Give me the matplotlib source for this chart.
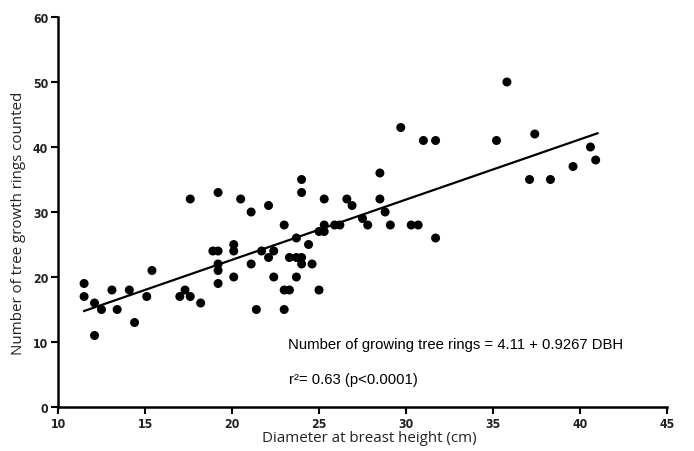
import matplotlib
matplotlib.use("Agg")
import matplotlib.pyplot as plt
import numpy as np

dbh = [11.5, 11.5, 12.1, 12.5, 12.1, 13.1, 13.4, 14.1, 14.4, 15.1, 15.4, 17.0, 17.3, 17.6, 18.2,
       17.6, 19.2, 20.5, 21.1, 18.9, 19.2, 19.2, 19.2, 19.2, 20.1, 20.1, 20.1, 21.1, 21.4,
       22.1, 23.0, 24.0, 24.0, 25.3, 26.6, 26.9, 21.7, 22.1, 22.4, 22.4, 23.0, 23.3, 23.0,
       23.3, 23.7, 24.0, 24.0, 23.7, 23.7, 24.4, 24.6, 25.0, 25.0, 25.3, 25.3, 25.9, 26.2,
       27.5, 27.8, 28.5, 28.5, 28.8, 29.1, 29.7, 30.3, 30.7, 31.0, 31.7, 31.7, 35.2, 35.8,
       37.1, 37.4, 38.3, 39.6, 40.6, 40.9]
rings = [19, 17, 16, 15, 11, 18, 15, 18, 13, 17, 21, 17, 18, 17, 16,
         32, 33, 32, 30, 24, 24, 22, 21, 19, 25, 24, 20, 22, 15,
         31, 28, 35, 33, 32, 32, 31, 24, 23, 24, 20, 18, 18, 15,
         23, 23, 23, 22, 26, 20, 25, 22, 18, 27, 27, 28, 28, 28,
         29, 28, 36, 32, 30, 28, 43, 28, 28, 41, 41, 26, 41, 50,
         35, 42, 35, 37, 40, 38]
intercept = 4.11
slope = 0.9267
fit_x = [11.5, 41.0]

xticks = [10, 15, 20, 25, 30, 35, 40, 45]
yticks = [0, 10, 20, 30, 40, 50, 60]

fig = plt.figure(figsize=(6.94, 4.52), dpi=100)
ax = fig.add_axes([58/694, 44/452, (667-58)/694, (408-18)/452])

ax.scatter(dbh, rings, s=42, color='black', edgecolors='none', zorder=3)
fx = np.array(fit_x)
ax.plot(fx, intercept + slope * fx, color='black', lw=1.6, zorder=2)

ax.set_xlim(10, 45)
ax.set_ylim(0, 60)
ax.set_xticks(xticks)
ax.set_yticks(yticks)
for s in ['top', 'right']:
    ax.spines[s].set_visible(False)
for s in ['left', 'bottom']:
    ax.spines[s].set_linewidth(1.8)
    ax.spines[s].set_clip_on(False)
ax.tick_params(axis='both', which='major', length=5, width=1.5, direction='out', pad=2)
for lab in ax.get_xticklabels() + ax.get_yticklabels():
    lab.set_fontfamily('DejaVu Sans')
    lab.set_fontstretch('condensed')
    lab.set_fontweight('bold')
    lab.set_fontsize(8.8)
    lab.set_color('#222222')

ax.set_xlabel('Diameter at breast height (cm)', fontsize=10.9, family='Open Sans', color='#222222')
ax.set_ylabel('Number of tree growth rings counted', fontsize=10.9, family='Open Sans', color='#222222')
ax.xaxis.set_label_coords((369 - 58) / 609, (408 - 439) / 390)
ax.yaxis.set_label_coords((19 - 58) / 609, (408 - 223) / 390)
ax.xaxis.label.set_va('center')
ax.yaxis.label.set_va('center')

ax.text(23.2, 9.7, 'Number of growing tree rings = 4.11 + 0.9267 DBH', fontsize=10.75,
        family='Liberation Sans', va='center', ha='left', color='black')
ax.text(23.3, 4.3, 'r\u00b2= 0.63 (p<0.0001)', fontsize=10.75,
        family='Liberation Sans', va='center', ha='left', color='black')

fig.savefig('out.png', dpi=100)
